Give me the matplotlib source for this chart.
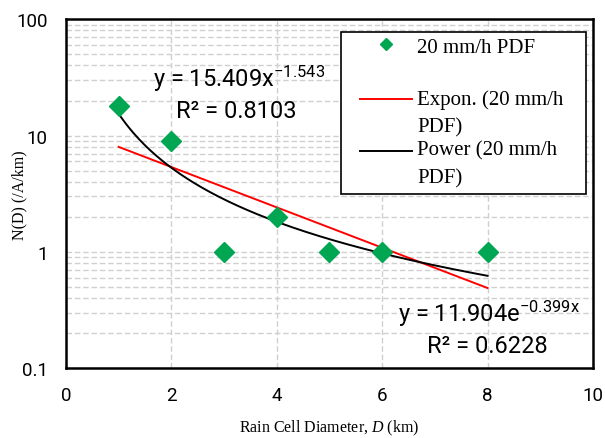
import numpy as np
import matplotlib
matplotlib.use("Agg")
import matplotlib.pyplot as plt
from matplotlib.ticker import LogLocator, FixedLocator, NullFormatter
from matplotlib.legend_handler import HandlerLine2D

# data
diameter = [1, 2, 3, 4, 5, 6, 8]
count = [18, 9, 1, 2, 1, 1, 1]

# trendline coefficients shown on the chart
pow_a, pow_b = 15.409, -1.543
exp_a, exp_b = 11.904, -0.399
r2_pow, r2_exp = 0.8103, 0.6228

sans = "Roboto"
serif = "Liberation Serif"

plt.rcParams["font.family"] = [sans, "DejaVu Sans"]
plt.rcParams["mathtext.fontset"] = "custom"
plt.rcParams["mathtext.rm"] = sans
plt.rcParams["mathtext.it"] = serif + ":italic"
plt.rcParams["mathtext.default"] = "regular"


class TopLine(HandlerLine2D):
    # handle sits on the first text line and on the right part of the box
    def __init__(self, dy, seg=37.4, **kw):
        super().__init__(**kw)
        self.dy = dy
        self.seg = seg

    def get_xdata(self, legend, xdescent, ydescent, width, height, fontsize):
        x1 = -xdescent + width
        x0 = x1 - self.seg
        return np.array([x0, x1]), np.array([(x0 + x1) / 2])

    def create_artists(self, legend, orig_handle, xdescent, ydescent,
                       width, height, fontsize, trans):
        arts = super().create_artists(legend, orig_handle, xdescent, ydescent,
                                      width, height, fontsize, trans)
        for a in arts:
            a.set_ydata(np.asarray(a.get_ydata(), float) + self.dy)
        return arts


fig = plt.figure(figsize=(6.05, 4.39), dpi=100)
ax = fig.add_axes([0.109, 0.159, 0.871, 0.795])

xs = np.linspace(min(diameter), max(diameter), 200)
ax.plot(xs, exp_a * np.exp(exp_b * xs), color="#ff0000", lw=1.4,
        label="Expon. (20 mm/h   \nPDF)", zorder=3)
ax.plot(xs, pow_a * xs ** pow_b, color="black", lw=1.4,
        label="Power (20 mm/h\nPDF)", zorder=3)
ax.plot(diameter, count, ls="none", marker="D", ms=10, color="#00a651",
        label="20 mm/h PDF\n ", zorder=4)

ax.set_yscale("log")
ax.set_xlim(0, 10)
ax.set_ylim(0.1, 100)
ax.set_xticks([0, 2, 4, 6, 8, 10])
ax.yaxis.set_major_locator(FixedLocator([0.1, 1, 10, 100]))
ax.set_yticklabels(["0.1", "1", "10", "100"])
ax.yaxis.set_minor_locator(LogLocator(base=10, subs=np.arange(2, 10)))
ax.yaxis.set_minor_formatter(NullFormatter())
ax.tick_params(which="both", length=0, labelsize=13.5, pad=13)

ax.grid(True, which="major", color="#d0d0d0", ls=(0, (4, 2)), lw=1)
ax.grid(True, which="minor", axis="y", color="#d0d0d0", ls=(0, (4, 2)), lw=1)
ax.set_axisbelow(True)
for s in ax.spines.values():
    s.set_linewidth(1.8)

ax.set_xlabel("Rain Cell Diameter, $\\mathit{D}$ (km)", family=serif, fontsize=11.5)
ax.xaxis.set_label_coords(0.5, -0.143)
ax.set_ylabel("N(D) (/A/km)", family=serif, fontsize=11.5, va="center")
ax.yaxis.set_label_coords(-0.089, 0.5)

fs = 17
ax.text(1.65, 26.6, "y = %.3fx$^{%.3f}$" % (pow_a, pow_b), fontsize=fs,
        ha="left", va="baseline")
ax.text(2.09, 14.4, "R² = %.4f" % r2_pow, fontsize=fs, ha="left", va="baseline")
ax.text(6.30, 0.253, "y = %.3fe$^{%.3fx}$" % (exp_a, exp_b), fontsize=fs,
        ha="left", va="baseline")
ax.text(6.85, 0.137, "R² = %.4f" % r2_exp, fontsize=fs, ha="left", va="baseline")

h, l = ax.get_legend_handles_labels()
lfs = 15
leg = ax.legend([h[2], h[0], h[1]], [l[2], l[0], l[1]],
                loc="upper left", bbox_to_anchor=(0.522, 0.963),
                prop={"family": serif, "size": lfs}, frameon=True, fancybox=False,
                edgecolor="black", framealpha=1, borderpad=0.3,
                labelspacing=0.2, handlelength=3.12, handletextpad=0.24,
                borderaxespad=0, markerscale=0.6,
                handler_map={h[0]: TopLine(9.5), h[1]: TopLine(9.5),
                             h[2]: TopLine(12.5)})
leg.get_frame().set_linewidth(1.2)
for t in leg.get_texts():
    t.set_linespacing(1.6)

fig.savefig("out.png", dpi=100)
